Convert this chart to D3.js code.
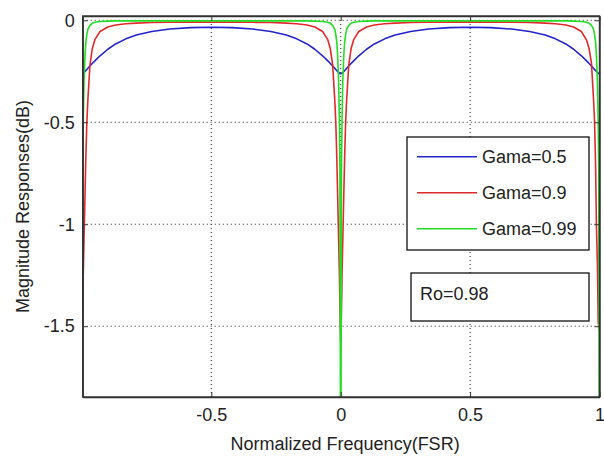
<!DOCTYPE html>
<html>
<head>
<meta charset="utf-8">
<script src="https://cdn.jsdelivr.net/npm/d3@7"></script>
<style>
  body { margin: 0; background: #fff; }
  text { font-family: "Liberation Sans", Arial, sans-serif; fill: #222; }
</style>
</head>
<body>
<svg width="604" height="457"></svg>
<script>
// normalized frequency samples (FSR)
var freq = [
  -0.997, -0.995, -0.992, -0.988, -0.985, -0.981, -0.977, -0.969, -0.96, -0.95, -0.93, -0.9, -0.87, -0.83, -0.79, -0.73, -0.66, -0.58,
  -0.5,
  -0.42, -0.34, -0.27, -0.21, -0.17, -0.13, -0.1, -0.07, -0.05, -0.04, -0.031, -0.023, -0.019, -0.015, -0.012, -0.008, -0.005, -0.003,
  0,
  0.003, 0.005, 0.008, 0.012, 0.015, 0.019, 0.023, 0.031, 0.04, 0.05, 0.07, 0.1, 0.13, 0.17, 0.21, 0.27, 0.34, 0.42,
  0.5,
  0.58, 0.66, 0.73, 0.79, 0.83, 0.87, 0.9, 0.93, 0.95, 0.96, 0.969, 0.977, 0.981, 0.985, 0.988, 0.992, 0.995, 0.997, 1.0
]

// magnitude responses (dB)
var gama05 = [
  -0.261, -0.259, -0.256, -0.251, -0.247, -0.241, -0.235, -0.224, -0.212, -0.199, -0.174, -0.142, -0.116, -0.091, -0.072, -0.055, -0.043, -0.036,
  -0.034,
  -0.036, -0.043, -0.055, -0.072, -0.091, -0.116, -0.142, -0.174, -0.199, -0.212, -0.224, -0.235, -0.241, -0.247, -0.251, -0.256, -0.259, -0.261,
  -0.262,
  -0.261, -0.259, -0.256, -0.251, -0.247, -0.241, -0.235, -0.224, -0.212, -0.199, -0.174, -0.142, -0.116, -0.091, -0.072, -0.055, -0.043, -0.036,
  -0.034,
  -0.036, -0.043, -0.055, -0.072, -0.091, -0.116, -0.142, -0.174, -0.199, -0.212, -0.224, -0.235, -0.241, -0.247, -0.251, -0.256, -0.259, -0.261, -0.262
]

var gama09 = [
  -1.42, -1.25, -1.08, -0.85, -0.68, -0.5, -0.39, -0.22, -0.14, -0.095, -0.055, -0.033, -0.023, -0.017, -0.014, -0.011, -0.01, -0.009,
  -0.009,
  -0.009, -0.01, -0.011, -0.014, -0.017, -0.023, -0.033, -0.055, -0.095, -0.14, -0.22, -0.39, -0.5, -0.68, -0.85, -1.08, -1.25, -1.42,
  -1.58,
  -1.42, -1.25, -1.08, -0.85, -0.68, -0.5, -0.39, -0.22, -0.14, -0.095, -0.055, -0.033, -0.023, -0.017, -0.014, -0.011, -0.01, -0.009,
  -0.009,
  -0.009, -0.01, -0.011, -0.014, -0.017, -0.023, -0.033, -0.055, -0.097, -0.14, -0.21, -0.39, -0.5, -0.72, -1.0, -1.2, -1.48, -1.5, -1.52
]

var gama099 = [
  -0.72, -0.5, -0.3, -0.17, -0.11, -0.07, -0.045, -0.025, -0.015, -0.01, -0.006, -0.004, -0.003, -0.003, -0.003, -0.003, -0.003, -0.003,
  -0.003,
  -0.003, -0.003, -0.003, -0.003, -0.003, -0.003, -0.004, -0.006, -0.01, -0.015, -0.025, -0.045, -0.07, -0.11, -0.17, -0.3, -0.5, -0.72,
  -2.6,
  -0.72, -0.5, -0.3, -0.17, -0.11, -0.07, -0.045, -0.025, -0.015, -0.01, -0.006, -0.004, -0.003, -0.003, -0.003, -0.003, -0.003, -0.003,
  -0.003,
  -0.003, -0.003, -0.003, -0.003, -0.003, -0.003, -0.004, -0.006, -0.01, -0.015, -0.025, -0.045, -0.07, -0.11, -0.17, -0.3, -0.5, -0.72, -2.6
]

var seriesNames = ['Gama=0.5', 'Gama=0.9', 'Gama=0.99']
var colours = ['#2424cc', '#e02a2a', '#22dd22']
var xTicks = [-0.5, 0, 0.5, 1]
var yTicks = [0, -0.5, -1, -1.5]
var note = 'Ro=0.98'

var svg = d3.select('svg')
var plotLeft = 82.7, plotRight = 599.5, plotTop = 16, plotBottom = 397

var x = d3.scaleLinear().domain([-0.997, 1]).range([plotLeft, plotRight])
var y = d3.scaleLinear().domain([-1.847, 0.021]).range([plotBottom, plotTop])

svg.append('defs').append('clipPath').attr('id', 'plotArea')
  .append('rect')
    .attr('x', plotLeft).attr('y', plotTop)
    .attr('width', plotRight - plotLeft).attr('height', plotBottom - plotTop)

// dotted grid
var grid = svg.append('g').attr('class', 'grid')
grid.selectAll('.gx').data(xTicks).enter().append('line')
    .attr('x1', function (d) { return x(d) }).attr('x2', function (d) { return x(d) })
    .attr('y1', plotTop).attr('y2', plotBottom)
grid.selectAll('.gy').data(yTicks).enter().append('line')
    .attr('y1', function (d) { return y(d) }).attr('y2', function (d) { return y(d) })
    .attr('x1', plotLeft).attr('x2', plotRight)
grid.selectAll('line')
    .attr('stroke', '#222')
    .attr('stroke-width', 1)
    .attr('stroke-dasharray', '1,3')

// curves
var series = [gama05, gama09, gama099]
var line = d3.line()
    .x(function (d, i) { return x(freq[i]) })
    .y(function (d) { return y(d) })

svg.append('g').attr('clip-path', 'url(#plotArea)')
  .selectAll('path')
    .data(series)
  .enter().append('path')
    .attr('d', line)
    .attr('fill', 'none')
    .attr('stroke', function (d, i) { return colours[i] })
    .attr('stroke-width', 1.6)
    .attr('stroke-linejoin', 'round')

// axes: bottom/left with labels, top/right just ticks (matlab box)
svg.append('g').attr('transform', 'translate(0,' + plotBottom + ')')
    .call(d3.axisBottom(x).tickValues(xTicks).tickSizeInner(-5).tickSizeOuter(0).tickPadding(11)
      .tickFormat(function (d) { return d }))
svg.append('g').attr('transform', 'translate(' + plotLeft + ',0)')
    .call(d3.axisLeft(y).tickValues(yTicks).tickSizeInner(-5).tickSizeOuter(0).tickPadding(8)
      .tickFormat(function (d) { return d }))
svg.append('g').attr('transform', 'translate(0,' + plotTop + ')')
    .call(d3.axisTop(x).tickValues(xTicks).tickSizeInner(-5).tickSizeOuter(0).tickFormat(''))
svg.append('g').attr('transform', 'translate(' + plotRight + ',0)')
    .call(d3.axisRight(y).tickValues(yTicks).tickSizeInner(-5).tickSizeOuter(0).tickFormat(''))

svg.selectAll('.domain').attr('stroke', '#333').attr('stroke-width', 1.4)
svg.selectAll('.tick line').attr('stroke', '#333')
svg.selectAll('.tick text')
    .style('font-size', '18px')
    .style('font-family', '"Liberation Sans", Arial, sans-serif')
    .attr('fill', '#222')

// frame
svg.append('rect')
    .attr('x', plotLeft).attr('y', plotTop)
    .attr('width', plotRight - plotLeft).attr('height', plotBottom - plotTop)
    .attr('fill', 'none').attr('stroke', '#333').attr('stroke-width', 1.4)

// axis titles
svg.append('text')
    .attr('x', (plotLeft + plotRight) / 2 + 4).attr('y', 450)
    .attr('text-anchor', 'middle')
    .style('font-size', '18px')
    .text('Normalized Frequency(FSR)')

svg.append('text')
    .attr('transform', 'translate(29,' + ((plotTop + plotBottom) / 2) + ') rotate(-90)')
    .attr('text-anchor', 'middle')
    .style('font-size', '18px')
    .text('Magnitude Responses(dB)')

// legend
var legend = svg.append('g')
legend.append('rect')
    .attr('x', 407).attr('y', 137).attr('width', 182).attr('height', 113)
    .attr('fill', '#fff').attr('stroke', '#222').attr('stroke-width', 1.4)

var item = legend.selectAll('.item').data(seriesNames).enter().append('g')
    .attr('transform', function (d, i) { return 'translate(0,' + (156.7 + i * 36) + ')' })
item.append('line')
    .attr('x1', 417).attr('x2', 477)
    .attr('stroke', function (d, i) { return colours[i] })
    .attr('stroke-width', 1.6)
item.append('text')
    .attr('x', 482).attr('dy', '0.36em')
    .style('font-size', '18px')
    .text(function (d) { return d })

// parameter note box
svg.append('rect')
    .attr('x', 411).attr('y', 273).attr('width', 178).attr('height', 48)
    .attr('fill', '#fff').attr('stroke', '#222').attr('stroke-width', 1.4)
svg.append('text')
    .attr('x', 420).attr('y', 300)
    .style('font-size', '18px')
    .text(note)
</script>
</body>
</html>
